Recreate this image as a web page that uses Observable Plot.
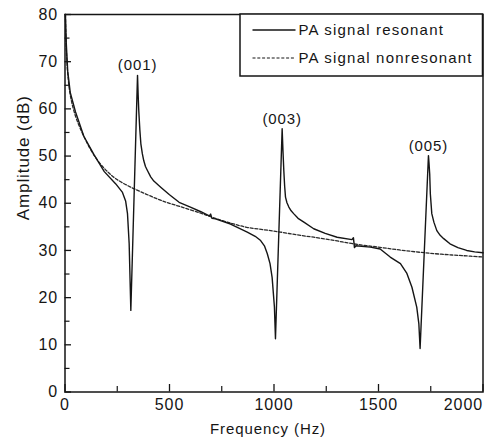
<!DOCTYPE html>
<html>
<head>
<meta charset="utf-8">
<script src="https://cdn.jsdelivr.net/npm/d3@7"></script>
<script src="https://cdn.jsdelivr.net/npm/@observablehq/plot@0.6"></script>
<style>
  html, body { margin: 0; padding: 0; background: #fff; }
  #chart svg { display: block; }
</style>
</head>
<body>
<div id="chart"></div>
<script>
// Non-resonant PA signal (dashed)
const freqNonres = [2, 6, 13, 25, 50, 90, 140, 190, 240, 315, 390, 460, 550, 650, 700, 800, 870, 950, 1030, 1110, 1190, 1290, 1380, 1500, 1600, 1700, 1800, 1900, 2000];
const ampNonres  = [80, 73, 67.5, 63, 58.5, 54.2, 50.1, 47.3, 45.3, 43.4, 41.9, 40.6, 39.3, 37.9, 37.1, 35.7, 34.9, 34.4, 33.9, 33.3, 32.8, 32.1, 31.4, 30.7, 30.1, 29.6, 29.2, 28.9, 28.6];

// Resonant PA signal (solid)
const freqRes = [2, 6, 13, 25, 50, 90, 140, 188, 243, 275, 290, 299, 307, 315, 347, 350, 353, 358, 363, 370, 377, 385, 395, 410, 425, 458, 500, 546, 600, 650, 690, 697, 703, 720, 792, 872, 910, 936, 955, 968, 981, 991, 1002, 1007, 1039, 1043, 1047, 1051, 1055, 1062, 1071, 1082, 1094, 1115, 1143, 1190, 1245, 1302, 1373, 1380, 1385, 1392, 1461, 1508, 1556, 1605, 1635, 1660, 1683, 1693, 1699, 1739, 1742, 1745, 1748, 1755, 1765, 1779, 1795, 1812, 1842, 1880, 1922, 1960, 2000];
const ampRes  = [80, 74, 68, 63.5, 59.4, 54.2, 50.2, 46.7, 44.1, 42.3, 40.5, 37.8, 31.4, 17.3, 67.1, 63.0, 59.6, 55.6, 52.6, 50.5, 49.0, 47.8, 46.9, 45.6, 44.7, 43.4, 41.8, 40.2, 39.2, 38.2, 37.3, 37.7, 36.8, 36.7, 35.6, 33.9, 33.0, 32.1, 30.9, 29.3, 27.2, 24.3, 18.0, 11.3, 55.8, 51.0, 46.9, 43.6, 41.3, 40.1, 39.2, 38.4, 37.8, 36.8, 36.0, 34.6, 33.6, 32.8, 32.3, 32.7, 30.6, 31.0, 30.7, 30.3, 28.6, 27.2, 25.2, 22.2, 18.0, 14.5, 9.2, 50.1, 48.3, 46.2, 42.0, 37.8, 36.0, 34.2, 33.2, 32.5, 31.4, 30.6, 30.0, 29.7, 29.5];

// Mode labels at resonance peaks
const peakLabels = ["(001)", "(003)", "(005)"];
const peakFreq   = [347, 1039, 1739];
const peakAmp    = [67.1, 55.8, 50.1];

// Ticks
const xMajor = [0, 500, 1000, 1500, 2000];
const xMinor = [250, 750, 1250, 1750];
const yMajor = [0, 10, 20, 30, 40, 50, 60, 70, 80];
const yMinor = [5, 15, 25, 35, 45, 55, 65, 75];

const seriesNames = ["PA signal resonant", "PA signal nonresonant"];
const xTitle = "Frequency (Hz)";
const yTitle = "Amplitude (dB)";

const nonres = freqNonres.map((f, i) => ({f, a: ampNonres[i]}));
const res = freqRes.map((f, i) => ({f, a: ampRes[i]}));
const peaks = peakLabels.map((t, i) => ({t, f: peakFreq[i], a: peakAmp[i]}));

const W = 485, H = 439;
const mL = 64.5, mR = 2.5, mT = 14, mB = 47.5;
const plotW = W - mL - mR, plotH = H - mT - mB;
const ink = "#151515";
const font = "'Liberation Sans', Arial, Helvetica, sans-serif";

const chart = Plot.plot({
  width: W, height: H,
  marginLeft: mL, marginRight: mR, marginTop: mT, marginBottom: mB,
  x: {domain: [0, 2000]},
  y: {domain: [0, 80]},
  style: {fontFamily: font, background: "#fff", color: ink, overflow: "visible"},
  marks: [
    Plot.line(nonres, {x: "f", y: "a", stroke: "#2a2a2a", strokeWidth: 1.3, strokeDasharray: "3,1.8", curve: "catmull-rom"}),
    Plot.line(res, {x: "f", y: "a", stroke: ink, strokeWidth: 1.4, curve: "linear"}),
    Plot.text(peaks, {x: "f", y: "a", text: "t", dy: -5, lineAnchor: "bottom", fontSize: 15, fill: ink}),
    // inward ticks, drawn as short tick marks hugging the axes
    Plot.tickX(xMajor, {x: d => d, insetTop: plotH - 7.5, stroke: ink, strokeWidth: 1.3}),
    Plot.tickX(xMinor, {x: d => d, insetTop: plotH - 5.5, stroke: ink, strokeWidth: 1.2}),
    Plot.tickY(yMajor, {y: d => d, insetRight: plotW - 6.5, stroke: ink, strokeWidth: 1.3}),
    Plot.tickY(yMinor, {y: d => d, insetRight: plotW - 5, stroke: ink, strokeWidth: 1.2}),
    // tick labels
    Plot.axisY({ticks: yMajor, tickSize: 0, tickPadding: 7, label: null, fontSize: 16, tickFormat: d => String(d)}),
    Plot.axisX({ticks: xMajor.slice(0, -1), tickSize: 0, tickPadding: 6.5, label: null, fontSize: 16, tickFormat: d => String(d)}),
    Plot.axisX({ticks: xMajor.slice(-1), tickSize: 0, tickPadding: 6.5, label: null, fontSize: 16, textAnchor: "end", tickFormat: d => String(d)}),
    // axis titles
    Plot.text([xTitle], {text: d => d, frameAnchor: "bottom", dx: -6, dy: 42, lineAnchor: "bottom", fontSize: 15, fill: ink}),
    Plot.text([yTitle], {text: d => d, frameAnchor: "left", rotate: -90, dx: -41, dy: 17, fontSize: 17, fill: ink}),
    Plot.frame({stroke: ink, strokeWidth: 1.5})
  ]
});

// letter spacing for a looser Helvetica look
d3.select(chart).selectAll("text").style("letter-spacing", "0.9px");

// Legend box at top right inside the frame
const frameRight = W - mR;
const frameTop = mT;
const lg = d3.select(chart).append("g")
  .attr("font-family", font)
  .attr("text-anchor", "start");
lg.append("rect")
  .attr("x", frameRight - 242.5).attr("y", frameTop)
  .attr("width", 242.5).attr("height", 62)
  .attr("fill", "#fff").attr("stroke", ink).attr("stroke-width", 1.5);
const rows = [
  {name: seriesNames[0], dash: null, y: frameTop + 16},
  {name: seriesNames[1], dash: "3,1.8", y: frameTop + 44}
];
rows.forEach(r => {
  lg.append("line")
    .attr("x1", frameRight - 230).attr("x2", frameRight - 187)
    .attr("y1", r.y).attr("y2", r.y)
    .attr("stroke", ink).attr("stroke-width", r.dash ? 1.2 : 1.4)
    .attr("stroke-dasharray", r.dash);
  lg.append("text")
    .attr("x", frameRight - 184).attr("y", r.y)
    .attr("dy", "0.35em")
    .attr("text-anchor", "start")
    .attr("font-size", 15)
    .attr("fill", ink)
    .style("letter-spacing", "1.2px")
    .text(r.name);
});

document.getElementById("chart").appendChild(chart);
</script>
</body>
</html>
